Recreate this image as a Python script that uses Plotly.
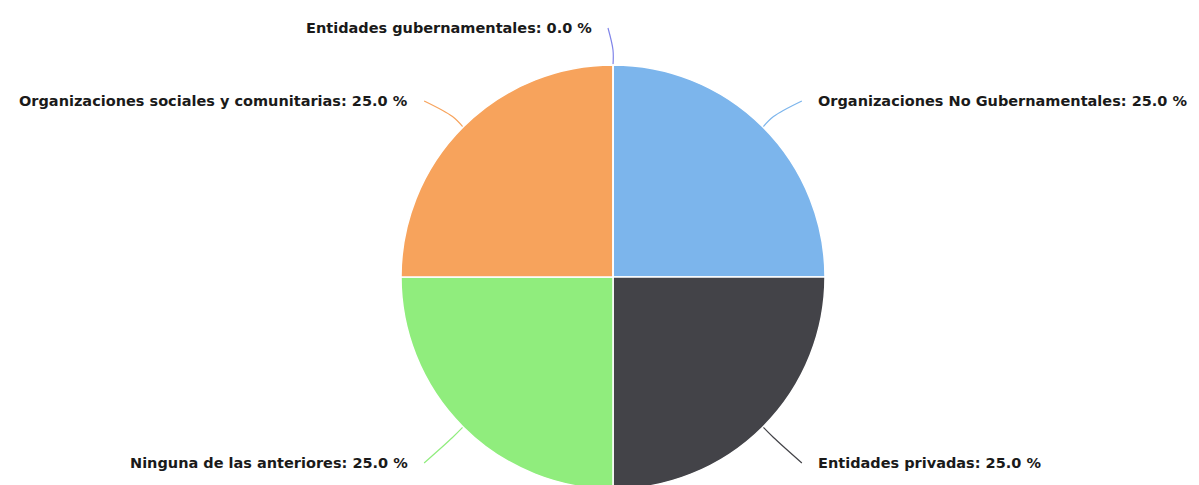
import math
import plotly.graph_objects as go

# ---- data ----
categories = [
    "Organizaciones No Gubernamentales",
    "Entidades privadas",
    "Ninguna de las anteriores",
    "Organizaciones sociales y comunitarias",
    "Entidades gubernamentales",
]
values = [25.0, 25.0, 25.0, 25.0, 0.0]
colors = ["#7cb5ec", "#434348", "#90ed7d", "#f7a35c", "#8085e9"]

# ---- layout constants (pixels, figure coordinates) ----
W, H = 1199, 485
OFF = 8            # page body margin offset
R = 212
cx = 613 - OFF
cy = 277 - OFF     # from top
dist_top = 37
dist_bottom = 51
font = dict(family="DejaVu Sans", size=14.5, color="#1a1a1a")

fig = go.Figure()
fig.add_trace(go.Pie(
    labels=categories, values=values,
    marker=dict(colors=colors, line=dict(color="white", width=1.5)),
    sort=False, direction="clockwise", rotation=0,
    textinfo="none", hoverinfo="label+percent", showlegend=False,
    domain=dict(x=[(cx - R) / W, (cx + R) / W],
                y=[(H - cy - R) / H, (H - cy + R) / H]),
))

total = sum(values)
cum = 0.0
annotations = []
for name, v, col in zip(categories, values, colors):
    mid = 2 * math.pi * (cum + v / 2) / total
    cum += v
    ux, uy = math.sin(mid), -math.cos(mid)
    left = math.degrees(mid) >= 180
    sgn = -1 if left else 1
    dist = dist_top if uy <= 0 else dist_bottom
    gap = 19 + 11 * abs(ux)
    lx = cx + ux * (R + dist_top) + sgn * gap
    ly = cy + uy * (R + dist)
    p0 = (cx + R * ux, cy + R * uy)
    pk = (p0[0] + 15 * ux, p0[1] + 15 * uy)
    pe = (lx - sgn * 14, ly)
    fig.add_trace(go.Scatter(
        x=[p0[0], pk[0], pe[0]], y=[p0[1], pk[1], pe[1]],
        mode="lines", line=dict(color=col, width=1.2, shape="spline"),
        hoverinfo="skip", showlegend=False, xaxis="x", yaxis="y",
    ))
    pct = 100 * v / total
    annotations.append(dict(
        x=lx, y=ly, xref="x", yref="y",
        text=f"<b>{name}: {pct:.1f} %</b>", showarrow=False,
        xanchor="right" if left else "left", yanchor="middle",
        font=font,
    ))

fig.update_layout(
    width=W, height=H,
    margin=dict(l=0, r=0, t=0, b=0),
    paper_bgcolor="white", plot_bgcolor="rgba(0,0,0,0)",
    xaxis=dict(range=[0, W], visible=False, fixedrange=True),
    yaxis=dict(range=[H, 0], visible=False, fixedrange=True),
    annotations=annotations,
)

fig.write_html("out.html")
